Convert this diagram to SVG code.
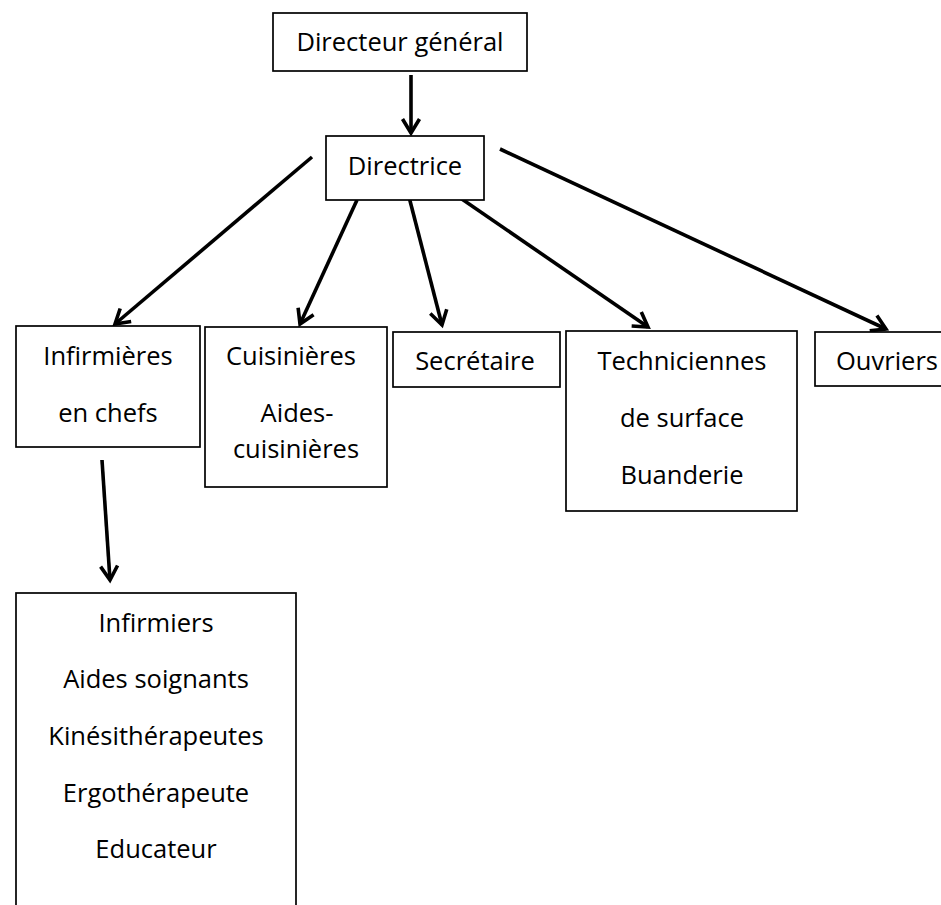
<svg xmlns="http://www.w3.org/2000/svg" width="941" height="905" viewBox="0 0 941 905">
<style>
.box{fill:#fff;stroke:#000;stroke-width:1.7}
.t{font-family:"Open Sans","Liberation Sans",sans-serif;font-size:25.5px;fill:#000;text-anchor:middle}
.c{stroke:#000;stroke-width:3.6;fill:none;marker-end:url(#ah)}
</style>
<defs>
<marker id="ah" markerUnits="userSpaceOnUse" viewBox="-18 -11 22 22" refX="0" refY="0" markerWidth="22" markerHeight="22" orient="auto">
<path d="M-14,-8.5 L0,0 L-14,8.5" fill="none" stroke="#000" stroke-width="3.6" stroke-linejoin="miter"/>
</marker>
</defs>
<rect width="941" height="905" fill="#fff"/>
<g id="connectors">
<line class="c" x1="411" y1="75" x2="411" y2="133"/>
<line class="c" x1="312" y1="157" x2="115" y2="324"/>
<line class="c" x1="357" y1="200" x2="300" y2="324"/>
<line class="c" x1="408" y1="193" x2="442" y2="325"/>
<line class="c" x1="440" y1="184" x2="648" y2="327"/>
<line class="c" x1="500" y1="149" x2="886" y2="329"/>
<line class="c" x1="102" y1="460" x2="110" y2="580"/>
</g>
<g id="directeur-general">
<rect class="box" x="273" y="13" width="254" height="58"/>
<text class="t" x="400" y="51">Directeur général</text>
</g>
<g id="directrice">
<rect class="box" x="326" y="136" width="158" height="64"/>
<text class="t" x="405" y="175">Directrice</text>
</g>
<g id="infirmieres-en-chefs">
<rect class="box" x="16" y="326" width="184" height="121"/>
<text class="t" x="108" y="365">Infirmières</text>
<text class="t" x="108" y="422">en chefs</text>
</g>
<g id="cuisinieres">
<rect class="box" x="205" y="327" width="182" height="160"/>
<text class="t" x="291" y="365">Cuisinières</text>
<text class="t" x="297" y="422">Aides-</text>
<text class="t" x="296" y="458">cuisinières</text>
</g>
<g id="secretaire">
<rect class="box" x="393" y="332" width="167" height="55"/>
<text class="t" x="475" y="370">Secrétaire</text>
</g>
<g id="techniciennes">
<rect class="box" x="566" y="331" width="231" height="180"/>
<text class="t" x="682" y="370">Techniciennes</text>
<text class="t" x="682" y="427">de surface</text>
<text class="t" x="682" y="484">Buanderie</text>
</g>
<g id="ouvriers">
<rect class="box" x="815" y="332" width="144" height="54"/>
<text class="t" x="887" y="370">Ouvriers</text>
</g>
<g id="equipe-soins">
<rect class="box" x="16" y="593" width="280" height="330"/>
<text class="t" x="156" y="632">Infirmiers</text>
<text class="t" x="156" y="688">Aides soignants</text>
<text class="t" x="156" y="745">Kinésithérapeutes</text>
<text class="t" x="156" y="802">Ergothérapeute</text>
<text class="t" x="156" y="858">Educateur</text>
</g>
</svg>
